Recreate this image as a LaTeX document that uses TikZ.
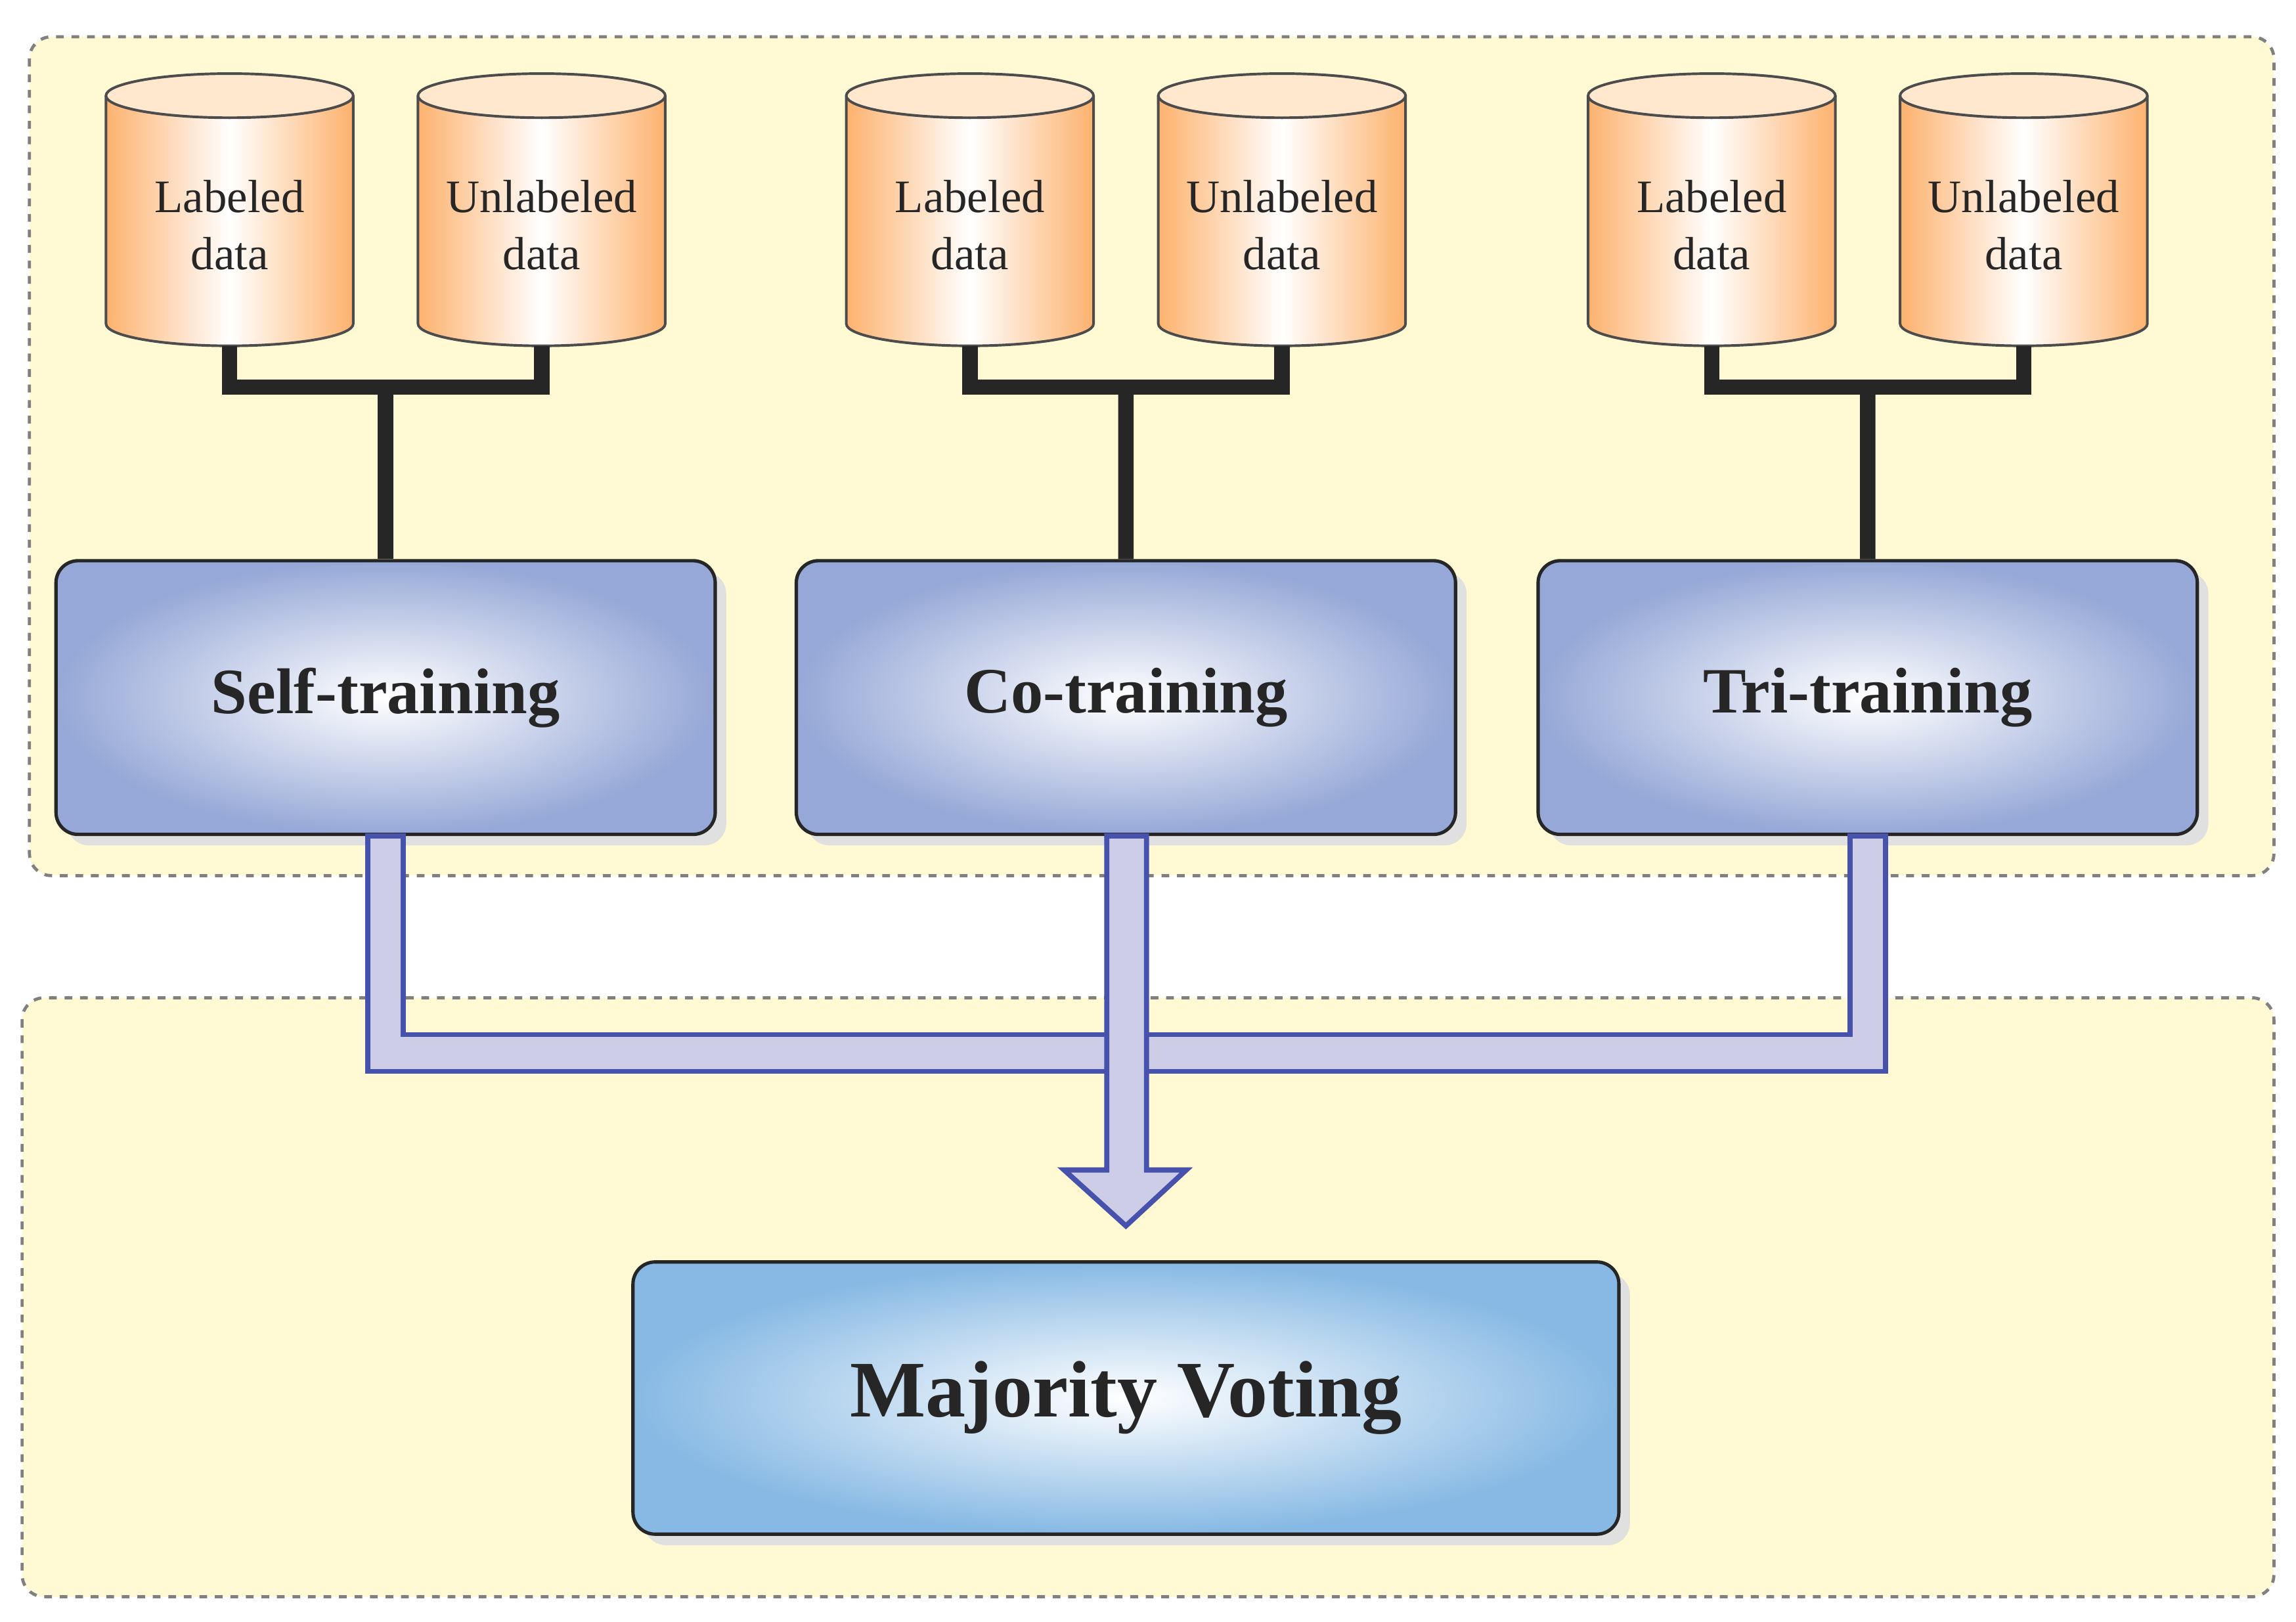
\documentclass[tikz,border=0pt]{standalone}
\usepackage{fontspec}
\setmainfont{Liberation Serif}
\usetikzlibrary{shadows,calc}
\definecolor{panel}{RGB}{255,250,212}
\definecolor{orng}{RGB}{253,178,110}
\definecolor{otop}{RGB}{255,232,205}
\definecolor{bluA}{RGB}{150,168,215}
\definecolor{bluB}{RGB}{135,185,228}
\definecolor{pipe}{RGB}{205,205,232}
\definecolor{pipeD}{RGB}{70,82,172}
\tikzset{
 panel/.style={draw=gray,dashed,line width=1.2pt,fill=panel,rounded corners=0.3cm},
 meth/.style={draw=black!85,line width=1.3pt,rounded corners=0.3cm,minimum width=8.96cm,minimum height=3.72cm,inner color=white,outer color=bluA,drop shadow={shadow xshift=0.15cm,shadow yshift=-0.15cm,fill=black!12,opacity=1},font=\fontsize{25}{30}\selectfont\bfseries,text=black!85},
 lbl/.style={align=center,font=\fontsize{18}{22}\selectfont,text=black!85},
 conn/.style={line width=6pt,black!85},
 pipes/.style={draw=pipeD,fill=pipe,line width=2pt},
}
\newcommand{\cyl}[2]{% left x, name
 \begin{scope}[shift={(#1,0)}]
 \draw[draw=black!70,line width=1pt,left color=orng,right color=orng,middle color=white] (0,65) -- (0,220) arc[start angle=180,end angle=360,x radius=84,y radius=-15] -- (168,65);
 \draw[draw=black!70,line width=1pt,fill=otop] (84,65) ellipse[x radius=84,y radius=15];
 \end{scope}
 \node[lbl] (#2) at ($(#1,0)+(84,153)$) {};
 \coordinate (#2b) at ($(#1,0)+(84,235)$);
}
\begin{document}
\begin{tikzpicture}[x=0.02cm,y=-0.02cm]
\useasboundingbox (0,0) rectangle (1560,1102);
\fill[white] (0,0) rectangle (1560,1102);
\draw[panel] (20,25) rectangle (1545,595);
\draw[panel] (15,678) rectangle (1545,1085);
\foreach \x/\n/\t in {72/l1/Labeled, 284/u1/Unlabeled, 575/l2/Labeled, 787/u2/Unlabeled, 1079/l3/Labeled, 1291/u3/Unlabeled}{
 \cyl{\x}{\n}
 \node[lbl] at (\n) {\t\\data};
}
\node[meth] (s) at (262,474) {Self-training};
\node[meth] (c) at (765,474) {Co-training};
\node[meth] (t) at (1269,474) {Tri-training};
\node[meth,minimum width=13.4cm,minimum height=3.7cm,outer color=bluB,font=\fontsize{31}{36}\selectfont\bfseries] (m) at (765,950) {Majority Voting};
\foreach \a/\b/\m in {l1/u1/s,l2/u2/c,l3/u3/t}{
 \draw[conn] (\a b) |- ($(\a b)!0.5!(\b b)+(0,28)$) -| (\b b);
 \draw[conn] ($(\a b)!0.5!(\b b)+(0,28)$) -- (\m.north);
}
\draw[pipes] (250,568) -- (274,568) -- (274,703) -- (1257,703) -- (1257,568) -- (1281,568) -- (1281,728) -- (250,728) -- cycle;
\coordinate (tip) at (765,833);
\draw[pipes] (752,568) -- (779,568) -- (779,795) -- (806,795) -- (tip) -- (723,795) -- (752,795) -- cycle;
\end{tikzpicture}
\end{document}
